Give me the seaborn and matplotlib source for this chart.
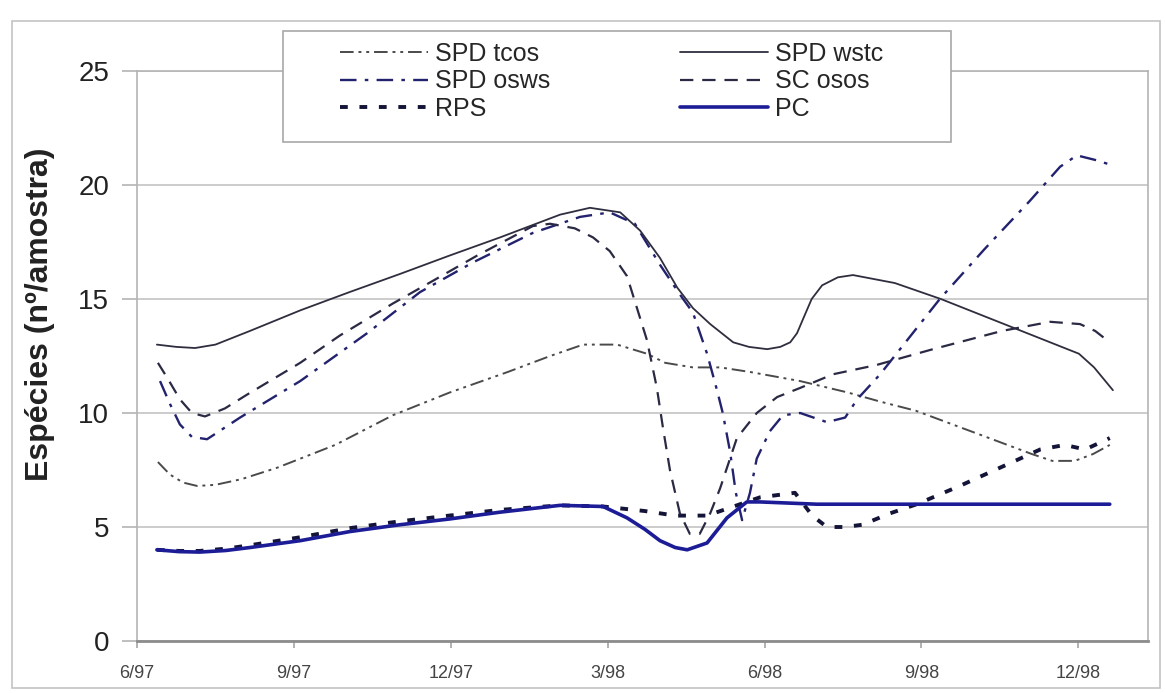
import matplotlib
matplotlib.use("Agg")
import matplotlib.pyplot as plt
import seaborn as sns
from matplotlib.patches import Rectangle

# months counted from 6/97
tick_months = [0, 3, 6, 9, 12, 15, 18]
tick_labels = ["6/97", "9/97", "12/97", "3/98", "6/98", "9/98", "12/98"]

# SPD tcos
tcos_x = [0.40, 0.63, 0.88, 1.15, 1.50, 2.00, 2.68, 3.79, 4.89, 5.98, 7.09, 7.90, 8.53, 9.18, 9.75,
          10.10, 10.63, 11.15, 11.72, 12.68, 13.59, 14.21, 14.89, 16.06, 17.11, 17.50, 17.93,
          18.28, 18.60]
tcos_y = [7.85, 7.3, 6.95, 6.8, 6.85, 7.1, 7.6, 8.6, 9.9, 10.9, 11.8, 12.5, 13.0, 13.0, 12.6,
          12.2, 12.0, 12.0, 11.8, 11.4, 10.9, 10.5, 10.1, 9.1, 8.2, 7.9, 7.9,
          8.2, 8.6]

# SPD wstc
wstc_x = [0.38, 0.75, 1.11, 1.50, 2.16, 3.12, 4.06, 5.03, 5.97, 6.94, 8.09, 8.66, 9.24, 9.62,
          10.0, 10.33, 10.63, 10.96, 11.40, 11.70, 12.05, 12.30, 12.49, 12.62, 12.75, 12.90,
          13.10, 13.40, 13.69, 14.49, 15.37, 16.69, 18.01, 18.30, 18.66]
wstc_y = [13.0, 12.9, 12.85, 13.0, 13.6, 14.5, 15.3, 16.1, 16.9, 17.7, 18.7, 19.0, 18.8, 18.0,
          16.8, 15.5, 14.6, 13.9, 13.1, 12.9, 12.8, 12.9, 13.1, 13.5, 14.2, 15.0,
          15.6, 15.95, 16.05, 15.7, 15.0, 13.8, 12.6, 12.0, 11.0]

# SPD osws
osws_x = [0.44, 0.63, 0.82, 1.05, 1.34, 1.97, 3.12, 4.40, 5.41, 6.42, 7.57, 8.47, 9.04, 9.52,
          10.0, 10.38, 10.63, 10.90, 11.09, 11.20, 11.34, 11.45, 11.57, 11.72, 11.85, 12.10,
          12.35, 12.68, 13.19, 13.54, 13.77, 14.21, 14.59, 15.35, 16.21, 17.07, 17.65, 17.97,
          18.32, 18.60]
osws_y = [11.4, 10.4, 9.5, 8.95, 8.85, 9.8, 11.4, 13.5, 15.3, 16.6, 17.9, 18.6, 18.8, 18.3,
          16.5, 15.2, 14.4, 12.6, 11.0, 10.0, 8.3, 6.5, 5.3, 6.5, 8.0, 9.2,
          9.9, 10.0, 9.6, 9.8, 10.6, 11.7, 12.8, 15.0, 17.2, 19.3, 20.8, 21.3,
          21.1, 20.9]

# SC osos
osos_x = [0.40, 0.59, 0.82, 1.05, 1.30, 1.68, 2.10, 3.12, 3.88, 4.89, 5.66, 6.50, 7.57, 7.90,
          8.37, 8.72, 9.04, 9.37, 9.56, 9.75, 9.94, 10.06, 10.19, 10.38, 10.57, 10.76, 10.96,
          11.15, 11.47, 11.85, 12.24, 12.68, 13.31, 14.13, 15.22, 16.54, 17.46, 18.03, 18.32,
          18.60]
osos_y = [12.2, 11.5, 10.6, 10.0, 9.85, 10.2, 10.8, 12.2, 13.4, 14.8, 15.8, 16.9, 18.2, 18.3,
          18.1, 17.7, 17.1, 16.0, 14.6, 13.2, 11.1, 9.3, 7.5, 5.6, 4.7, 4.7, 5.6,
          6.7, 8.9, 10.0, 10.7, 11.1, 11.7, 12.1, 12.8, 13.6, 14.0, 13.9, 13.6,
          13.1]

# RPS
rps_x = [0.38, 0.80, 1.20, 1.70, 2.16, 3.12, 4.07, 5.03, 5.97, 6.94, 8.09, 8.91, 9.71, 10.29,
         10.90, 11.47, 11.91, 12.58, 12.91, 13.19, 13.54, 13.87, 14.40, 14.91, 15.73, 16.50,
         17.27, 17.74, 18.13, 18.60]
rps_y = [4.0, 3.95, 3.95, 4.05, 4.2, 4.55, 4.95, 5.25, 5.5, 5.75, 5.95, 5.9, 5.7, 5.5,
         5.5, 5.95, 6.3, 6.5, 5.5, 5.0, 5.0, 5.1, 5.6, 6.0, 6.8, 7.6,
         8.4, 8.6, 8.4, 8.9]

# PC
pc_x = [0.38, 0.80, 1.20, 1.70, 2.16, 3.12, 4.07, 5.03, 5.97, 6.94, 8.09, 8.91, 9.37, 9.71,
        10.0, 10.29, 10.52, 10.90, 11.28, 11.66, 11.91, 13.0, 15.0, 17.0, 18.60]
pc_y = [4.0, 3.92, 3.9, 3.97, 4.1, 4.4, 4.8, 5.1, 5.35, 5.65, 5.95, 5.9, 5.4, 4.9,
        4.4, 4.1, 4.0, 4.3, 5.4, 6.1, 6.1, 6.0, 6.0, 6.0, 6.0]

sns.set_theme(style="white")
plt.rcParams["font.family"] = ["Liberation Sans", "DejaVu Sans"]

W, H = 1165, 693
fig = plt.figure(figsize=(W / 100, H / 100), dpi=100)
ax = fig.add_axes([137 / W, 1 - 641 / H, (1148 - 137) / W, (641 - 71) / H])

series = [
    ("SPD tcos", tcos_x, tcos_y, "#4a4a4a", 1.4, (0, (7, 2.5, 1.5, 2.5, 1.5, 2.5))),
    ("SPD osws", osws_x, osws_y, "#22226e", 1.7, (0, (7, 3.5, 1.5, 3.5))),
    ("RPS", rps_x, rps_y, "#141438", 2.8, (0, (2.0, 3.0))),
    ("SPD wstc", wstc_x, wstc_y, "#2e2e3e", 1.3, "-"),
    ("SC osos", osos_x, osos_y, "#2a2a44", 1.6, (0, (6, 4))),
    ("PC", pc_x, pc_y, "#1c1c96", 2.6, "-"),
]

handles = []
for name, xs, ys, col, lw, ls in series:
    sns.lineplot(x=xs, y=ys, ax=ax, color=col, linewidth=lw, linestyle=ls,
                 sort=False, estimator=None)
    handles.append(ax.get_lines()[-1])

ax.set_xlim(0, (1148 - 137) / 52.3)
ax.set_ylim(0, 25)
ax.set_yticks([0, 5, 10, 15, 20, 25])
ax.set_xticks(tick_months)
ax.set_xticklabels(tick_labels)
ax.tick_params(axis="y", labelsize=20, length=11, color="#b4b4b4", width=1.2,
               labelcolor="#222222", pad=9, left=True)
ax.tick_params(axis="x", labelsize=13, length=5, color="#a8a8a8",
               labelcolor="#444444", pad=12, bottom=True)
ax.yaxis.grid(True, color="#c8c8c8", linewidth=1.3)
ax.set_axisbelow(True)
for s in ["top", "right", "left"]:
    ax.spines[s].set_color("#b4b4b4")
    ax.spines[s].set_linewidth(1.2)
ax.spines["bottom"].set_color("#8c8c8c")
ax.spines["bottom"].set_linewidth(2.0)

ax.set_ylabel("Espécies (nº/amostra)", fontsize=23, fontweight="bold", color="#222222")
ax.yaxis.set_label_coords((55 - 137) / (1148 - 137), (641 - 314) / (641 - 71))

# chart area border and legend box
fig.patches.append(Rectangle((12 / W, 1 - 688 / H), (1160 - 12) / W, (688 - 21) / H,
                             transform=fig.transFigure, fill=False,
                             edgecolor="#c4c4c4", linewidth=1.2, zorder=0))
fig.patches.append(Rectangle((283 / W, 1 - 142 / H), (951 - 283) / W, (142 - 31) / H,
                             transform=fig.transFigure, facecolor="white",
                             edgecolor="#a8a8a8", linewidth=1.2, zorder=3))

fig.legend(handles, [s[0] for s in series], loc="upper left",
           bbox_to_anchor=(340 / W, 1 - 42 / H), ncol=2, frameon=False,
           fontsize=18, handlelength=3.5, handletextpad=0.3, columnspacing=5.2,
           labelspacing=0.14, borderpad=0, borderaxespad=0)

fig.savefig("out.png", dpi=100, facecolor="white")
